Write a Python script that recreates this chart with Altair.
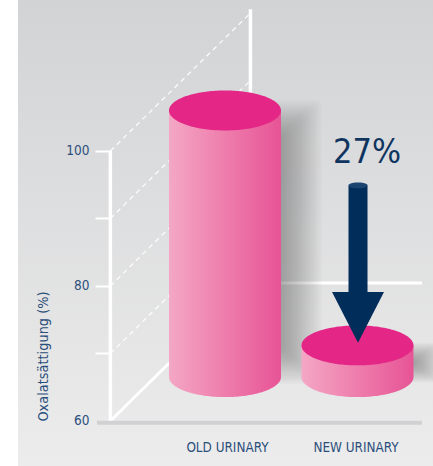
import math
import altair as alt
import pandas as pd

# Measured readings: oxalate saturation (%) on the vertical scale, categories on the horizontal
categories = ["OLD URINARY", "NEW URINARY"]
positions = [1.0, 2.0]
top_values = [106.0, 71.2]
base_value = 66.5
tick_values = [60, 70, 80, 90, 100]
wall_depth = 20.44

X_DOMAIN = [-0.698, 2.570]
Y_DOMAIN = [53.33, 122.37]
RADIUS_X = 0.4226
RADIUS_Y = 2.96
FRONT_X, BACK_X, RIGHT_X, LEFT_X = 0.135, 1.192, 2.487, -0.562
INK = "#2b4f7b"
NAVY = "#002d5a"
FONT = "DejaVu Sans Condensed"

x_scale = alt.Scale(domain=X_DOMAIN, range=[0, 433], nice=False, zero=False)
y_scale = alt.Scale(domain=Y_DOMAIN, range=[466, 0], nice=False, zero=False)

# Value axis sits on the front edge of the box, category names along the floor
y_axis = alt.Axis(
    title="Oxalatsättigung (%)",
    values=tick_values,
    labelExpr="datum.value % 20 === 0 ? datum.label : ''",
    offset=-111,
    domain=False,
    grid=False,
    zindex=1,
    tickSize=16,
    tickWidth=2,
    tickColor={"condition": {"test": "datum.value === 60", "value": "transparent"},
               "value": "#ffffff"},
    labelFont=FONT,
    labelFontSize=13.5,
    labelColor=INK,
    labelPadding=6,
    titleFont=FONT,
    titleFontSize=14.4,
    titleFontWeight="normal",
    titleColor=INK,
    titleAngle=270,
    titleX=-61,
    titleY=356,
    titleLimit=300,
)
x_axis = alt.Axis(
    title=None,
    values=[1.015, 1.985],
    labelExpr=f"datum.value < 1.5 ? '{categories[0]}' : '{categories[1]}'",
    orient="bottom",
    offset=-15,
    domain=False,
    ticks=False,
    grid=False,
    zindex=1,
    labelFont=FONT,
    labelFontSize=13.4,
    labelColor=INK,
    labelPadding=0,
    labelBaseline="alphabetic",
)


def enc_x():
    return alt.X("x:Q", scale=x_scale, axis=x_axis)


def enc_y():
    return alt.Y("y:Q", scale=y_scale, axis=y_axis)


def gradient(stops, horizontal=True):
    return alt.LinearGradient(
        gradient="linear",
        stops=[alt.GradientStop(offset=o, color=c) for o, c in stops],
        x1=0, y1=0, x2=1 if horizontal else 0, y2=0 if horizontal else 1,
    )


def rule_chart(rows, **mark):
    return alt.Chart(pd.DataFrame(rows)).mark_rule(**mark).encode(
        x=enc_x(), x2="x2:Q", y=enc_y(), y2="y2:Q"
    )


def rect_chart(rows, **mark):
    return alt.Chart(pd.DataFrame(rows)).mark_rect(**mark).encode(
        x=enc_x(), x2="x2:Q", y=enc_y(), y2="y2:Q"
    )


def ellipse_rows(cx, cy, a, b, n=90):
    rows = []
    for i in range(n + 1):
        t = math.pi * (1 - i / n)
        rows.append({"x": cx + a * math.cos(t),
                     "y": cy + b * math.sin(t),
                     "y2": cy - b * math.sin(t)})
    return rows


def body_rows(cx, top, base, a, b, n=90):
    rows = []
    for i in range(n + 1):
        t = math.pi * (1 - i / n)
        rows.append({"x": cx + a * math.cos(t), "y": top,
                     "y2": base - b * math.sin(t)})
    return rows


def area_chart(rows, **mark):
    return alt.Chart(pd.DataFrame(rows)).mark_area(**mark).encode(
        x=enc_x(), y=enc_y(), y2="y2:Q"
    )


def soft_shadow(x0, x1, top, bottom, spread_x, spread_y, steps=24, alpha=0.028):
    # Nested translucent boxes build up a blurred edge
    rows = []
    for i in range(steps):
        k = 1 - 2 * i / (steps - 1)
        rows.append({"x": x0, "x2": x1 + spread_x * k,
                     "y": top + spread_y * k, "y2": bottom - spread_y * k})
    return rect_chart(rows, color="#55565a", opacity=alpha, cornerRadius=6)


background = rect_chart(
    [{"x": LEFT_X, "x2": X_DOMAIN[1], "y": Y_DOMAIN[0], "y2": Y_DOMAIN[1]}],
    color=gradient([(0, "#d2d3d5"), (1, "#ececec")], horizontal=False),
)

front_edge = rule_chart([{"x": FRONT_X, "x2": FRONT_X, "y": 60, "y2": 100}],
                        color="white", strokeWidth=3.5)
back_edge = rule_chart([{"x": BACK_X, "x2": BACK_X, "y": 60 + wall_depth, "y2": 121}],
                       color="white", strokeWidth=3.5)
floor_lines = rule_chart(
    [{"x": FRONT_X, "x2": BACK_X, "y": 60, "y2": 60 + wall_depth},
     {"x": BACK_X, "x2": RIGHT_X, "y": 60 + wall_depth, "y2": 60 + wall_depth}],
    color="white", strokeWidth=3)
dashed = rule_chart(
    [{"x": FRONT_X, "x2": BACK_X, "y": v, "y2": v + wall_depth} for v in tick_values[1:]],
    color="white", strokeWidth=1.3, strokeDash=[5, 4], opacity=0.9)
floor = rule_chart([{"x": 0.034, "x2": RIGHT_X, "y": 59.75, "y2": 59.75}],
                   color="#d1d1d3", strokeWidth=4)

shadows = [
    soft_shadow(1.0, 1.53, 104.0, 69.0, spread_x=0.2, spread_y=3.5),
    soft_shadow(2.0, 2.5, 69.8, 67.5, spread_x=0.14, spread_y=1.8),
]

body_fill = gradient([(0, "#f4a7c5"), (0.5, "#ee7dac"), (1, "#e75496")])
cylinders = []
for cx, top in zip(positions, top_values):
    cylinders.append(area_chart(body_rows(cx, top, base_value, RADIUS_X, RADIUS_Y), color=body_fill))
    cylinders.append(area_chart(ellipse_rows(cx, top, RADIUS_X, RADIUS_Y), color="#e42786"))

# Downward arrow on the second cylinder
ARROW_X = 2.004
shaft = rect_chart(
    [{"x": ARROW_X - 0.0717, "x2": ARROW_X + 0.0717, "y": 79.0, "y2": 94.9}], color=NAVY)
cap = area_chart(ellipse_rows(ARROW_X, 94.9, 0.0717, 0.44), color="#1c4470")
head = area_chart(
    [{"x": ARROW_X - 0.196, "y": 79.1, "y2": 79.1},
     {"x": ARROW_X, "y": 79.1, "y2": 71.6},
     {"x": ARROW_X + 0.196, "y": 79.1, "y2": 79.1}],
    color=NAVY,
)
percent = alt.Chart(pd.DataFrame([{"x": 2.072, "y": 98.2, "t": "27%"}])).mark_text(
    font=FONT, fontSize=34, color="#0f3460", align="center", baseline="alphabetic"
).encode(x=enc_x(), y=enc_y(), text="t:N")

chart = alt.layer(
    background,
    dashed, back_edge, floor_lines, front_edge, floor,
    *shadows, *cylinders,
    shaft, cap, head, percent,
).properties(
    width=433, height=466, padding=0,
    autosize=alt.AutoSizeParams(type="none"),
    background="white",
).configure_view(stroke=None)

chart.save("out.html", embed_options={"renderer": "svg", "actions": False})
